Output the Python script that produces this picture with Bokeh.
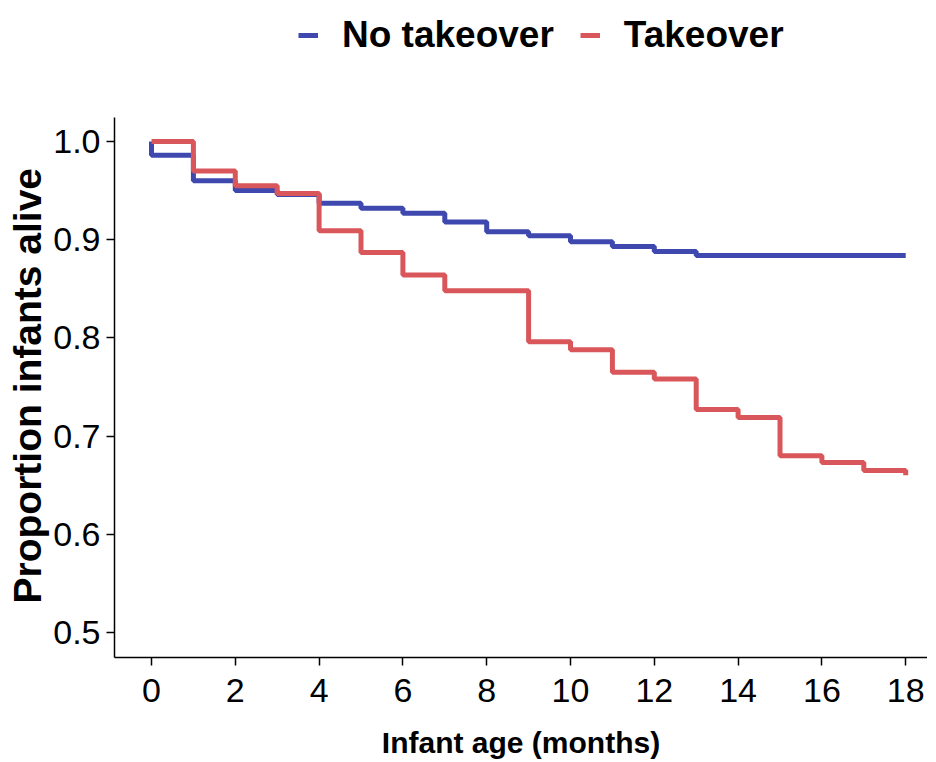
from bokeh.plotting import figure
from bokeh.models import Legend, LegendItem, Range1d, FixedTicker, Title
from bokeh.embed import file_html
from bokeh.resources import INLINE

# Kaplan-Meier step data (months, proportion alive)
no_takeover_t = [0, 0, 1, 2, 3, 4, 5, 6, 7, 8, 9, 10, 11, 12, 13, 18]
no_takeover_s = [1.0, 0.986, 0.960, 0.950, 0.946, 0.937, 0.932, 0.927, 0.918,
                 0.908, 0.904, 0.898, 0.893, 0.888, 0.884, 0.884]
takeover_t = [0, 1, 2, 3, 4, 5, 6, 7, 9, 10, 11, 12, 13, 14, 15, 16, 17, 18]
takeover_s = [1.0, 0.970, 0.955, 0.947, 0.909, 0.887, 0.864, 0.848, 0.796,
              0.788, 0.765, 0.758, 0.727, 0.719, 0.680, 0.673, 0.665, 0.660]
x_ticks = [0, 2, 4, 6, 8, 10, 12, 14, 16, 18]
y_ticks = [0.5, 0.6, 0.7, 0.8, 0.9, 1.0]
series_names = ["No takeover", "Takeover"]
colors = ["#3F48AE", "#D9575A"]

SANS = "Liberation Sans"
Y_MIN, Y_AXIS_TOP = 0.4745, 1.0244

# frame extends above the axis so the legend (drawn in the frame) is not clipped
p = figure(frame_width=813, frame_height=647, output_backend="svg",
           toolbar_location=None,
           x_range=Range1d(-0.883, 18.52), y_range=Range1d(Y_MIN, 1.1334),
           min_border_left=114, min_border_right=0, min_border_top=10,
           min_border_bottom=100)
p.outline_line_color = None
p.xgrid.visible = False
p.ygrid.visible = False

r1 = p.step(no_takeover_t, no_takeover_s, mode="after", line_color=colors[0],
            line_width=5)
r2 = p.step(takeover_t, takeover_s, mode="after", line_color=colors[1],
            line_width=5)

for ax in (p.xaxis[0], p.yaxis[0]):
    ax.axis_line_color = "black"
    ax.axis_line_width = 1.5
    ax.major_tick_line_color = "black"
    ax.major_tick_line_width = 1.5
    ax.major_tick_in = 0
    ax.major_tick_out = 8
    ax.minor_tick_line_color = None
    ax.major_label_text_font = SANS
    ax.major_label_text_font_size = "34px"
    ax.major_label_text_color = "black"
    ax.axis_label_text_color = "black"
    ax.axis_label_text_font_style = "bold"
    ax.axis_label_text_font = SANS

p.yaxis.bounds = (Y_MIN, Y_AXIS_TOP)
p.xaxis.ticker = FixedTicker(ticks=x_ticks)
p.yaxis.ticker = FixedTicker(ticks=y_ticks)
p.yaxis.major_label_overrides = {v: f"{v:.1f}" for v in y_ticks}
p.xaxis.major_label_standoff = 13
p.yaxis.major_label_standoff = 6

p.xaxis.axis_label = "Infant age (months)"
p.xaxis.axis_label_text_font_size = "30px"
p.xaxis.axis_label_standoff = 21

# y-axis title as a side title so it can be centred on the visible axis
ytitle = Title(text="Proportion infants alive", align="left", offset=54,
               text_font=SANS, text_font_size="39px", text_font_style="bold",
               text_color="black", standoff=4)
p.add_layout(ytitle, "left")

legend = Legend(items=[LegendItem(label=series_names[0], renderers=[r1]),
                       LegendItem(label=series_names[1], renderers=[r2])],
                orientation="horizontal", location=(184, 601),
                label_text_font=SANS, label_text_font_size="37px",
                label_text_font_style="bold", label_text_color="black",
                glyph_width=20, glyph_height=30, label_standoff=24,
                spacing=26, padding=0, margin=0,
                border_line_color=None, background_fill_alpha=0)
p.add_layout(legend)

open("out.html", "w").write(file_html(p, INLINE))
